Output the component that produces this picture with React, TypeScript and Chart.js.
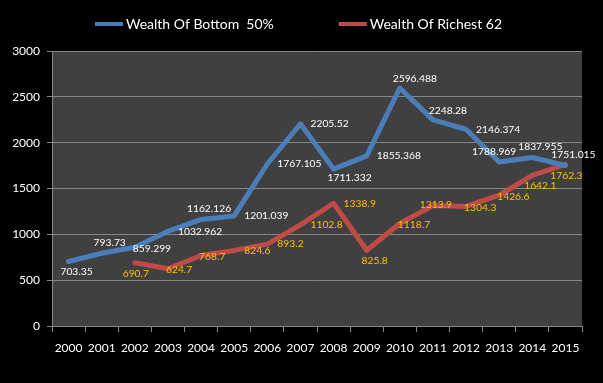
import React, { useEffect, useRef } from "react";
import { Chart, registerables } from "chart.js";

Chart.register(...registerables);

const years = ["2000", "2001", "2002", "2003", "2004", "2005", "2006", "2007", "2008", "2009", "2010", "2011", "2012", "2013", "2014", "2015"];
const bottom50 = [703.35, 793.73, 859.299, 1032.962, 1162.126, 1201.039, 1767.105, 2205.52, 1711.332, 1855.368, 2596.488, 2248.28, 2146.374, 1788.969, 1837.955, 1751.015];
const richest62: (number | null)[] = [null, null, 690.7, 624.7, 768.7, 824.6, 893.2, 1102.8, 1338.9, 825.8, 1118.7, 1313.9, 1304.3, 1426.6, 1642.1, 1762.3];
const seriesNames = ["Wealth Of Bottom  50%", "Wealth Of Richest 62"];
const yMin = 0;
const yMax = 3000;
const yStep = 500;

// label placement keywords (relative to each point)
const bottomLabelPlace = ["b", "a", "n", "r", "a", "r", "r", "r", "br", "r", "ar", "ar", "r", "al", "a", "a"];
const richestLabelPlace = ["", "", "bc", "n", "n", "r", "r", "r", "r", "b", "n", "c", "n", "n", "b", "bc"];

const PLACE: Record<string, { align: CanvasTextAlign; dx: number; dy: number }> = {
  r: { align: "left", dx: 10, dy: 0 },
  n: { align: "left", dx: -2, dy: 1 },
  b: { align: "center", dx: 8, dy: 10 },
  bc: { align: "center", dx: 1, dy: 11 },
  br: { align: "center", dx: 16, dy: 9 },
  a: { align: "center", dx: 8, dy: -11 },
  ar: { align: "center", dx: 15, dy: -9 },
  al: { align: "center", dx: -5, dy: -10 },
  c: { align: "center", dx: 3, dy: -1 },
};

const BLUE = "#4A7EBB";
const RED = "#BE4B48";
const FONT = "Lato, 'Open Sans', sans-serif";

const bgPlugin = {
  id: "plotBg",
  beforeDraw(chart: any) {
    const { ctx, chartArea } = chart;
    ctx.save();
    ctx.fillStyle = "#404040";
    ctx.fillRect(chartArea.left, chartArea.top, chartArea.right - chartArea.left, chartArea.bottom - chartArea.top);
    ctx.restore();
  },
};

const labelPlugin = {
  id: "pointLabels",
  afterDatasetsDraw(chart: any) {
    const { ctx } = chart;
    const places = [bottomLabelPlace, richestLabelPlace];
    const colors = ["#FFFFFF", "#FFC000"];
    ctx.save();
    ctx.font = `10.3px ${FONT}`;
    ctx.textBaseline = "middle";
    chart.data.datasets.forEach((ds: any, di: number) => {
      const meta = chart.getDatasetMeta(di);
      meta.data.forEach((el: any, i: number) => {
        const v = ds.data[i];
        if (v == null) return;
        const p = PLACE[places[di][i]] || PLACE.r;
        ctx.fillStyle = colors[di];
        ctx.textAlign = p.align;
        ctx.fillText(String(v), el.x + p.dx, el.y + p.dy);
      });
    });
    ctx.restore();
  },
};

const legendPlugin = {
  id: "customLegend",
  afterDraw(chart: any) {
    const { ctx, width } = chart;
    ctx.save();
    ctx.font = `14px ${FONT}`;
    ctx.textBaseline = "middle";
    ctx.textAlign = "left";
    const lineLen = 28;
    const gapText = 3;
    const gapItems = 65;
    const colors = [BLUE, RED];
    const widths = seriesNames.map((n) => ctx.measureText(n).width);
    const total = widths.reduce((s, w) => s + lineLen + gapText + w, 0) + gapItems;
    let x = (width - total) / 2 - 3;
    const y = 24;
    seriesNames.forEach((name, i) => {
      ctx.strokeStyle = colors[i];
      ctx.lineWidth = 4;
      ctx.beginPath();
      ctx.moveTo(x, y);
      ctx.lineTo(x + lineLen, y);
      ctx.stroke();
      x += lineLen + gapText;
      ctx.fillStyle = "#FFFFFF";
      ctx.fillText(name, x, y);
      x += widths[i] + gapItems;
    });
    ctx.restore();
  },
};

export default function App() {
  const ref = useRef<HTMLCanvasElement | null>(null);
  useEffect(() => {
    if (!ref.current) return;
    const chart = new Chart(ref.current, {
      type: "line",
      data: {
        labels: years,
        datasets: [
          {
            label: seriesNames[0],
            data: bottom50,
            borderColor: BLUE,
            backgroundColor: BLUE,
            borderWidth: 5,
            pointRadius: 0,
            tension: 0,
            borderJoinStyle: "round",
            borderCapStyle: "round",
          },
          {
            label: seriesNames[1],
            data: richest62,
            borderColor: RED,
            backgroundColor: RED,
            borderWidth: 5,
            pointRadius: 0,
            tension: 0,
            borderJoinStyle: "round",
            borderCapStyle: "round",
          },
        ],
      },
      options: {
        animation: false,
        responsive: false,
        devicePixelRatio: 1,
        layout: { padding: { top: 51, right: 21, left: 0, bottom: 0 } },
        plugins: {
          legend: { display: false },
          tooltip: { enabled: false },
        },
        scales: {
          x: {
            offset: true,
            grid: {
              display: true,
              offset: true,
              drawOnChartArea: false,
              drawTicks: true,
              tickLength: 6,
              color: "#868686",
            },
            border: { display: true, color: "#868686", width: 1 },
            ticks: {
              color: "#FFFFFF",
              font: { family: FONT, size: 12 },
              padding: 9,
              maxRotation: 0,
              autoSkip: false,
            },
            afterFit(scale: any) {
              scale.height = 57;
            },
          },
          y: {
            min: yMin,
            max: yMax,
            grid: {
              color: "#868686",
              drawTicks: true,
              tickLength: 5,
              lineWidth: 1,
            },
            border: { display: true, color: "#868686", width: 1 },
            ticks: {
              stepSize: yStep,
              color: "#FFFFFF",
              font: { family: FONT, size: 12 },
              padding: 7,
              callback: (v: any) => String(v),
            },
            afterFit(scale: any) {
              scale.width = 52;
            },
          },
        },
      },
      plugins: [bgPlugin, labelPlugin, legendPlugin],
    });
    return () => chart.destroy();
  }, []);
  return (
    <div style={{ position: "fixed", left: 0, top: 0, width: 603, height: 383, background: "#000" }}>
      <canvas ref={ref} width={603} height={383} style={{ display: "block" }} />
    </div>
  );
}
